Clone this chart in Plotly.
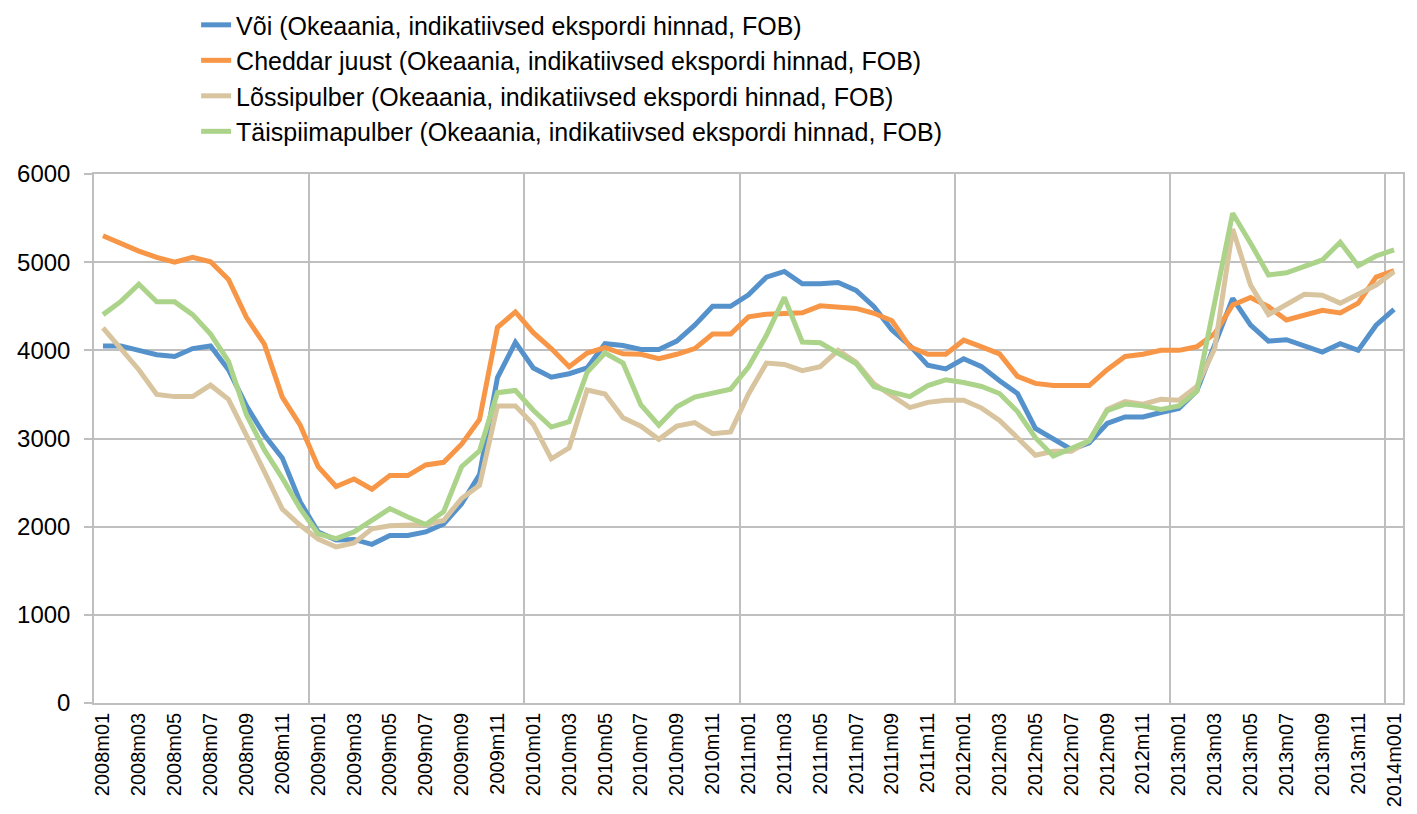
import plotly.graph_objects as go

# MONTH LABELS (2008m01 ... 2014m01), the last one is spelled like in the source
months = []
for year in range(2008, 2014):
    for m in range(1, 13):
        months.append(f"{year}m{m:02d}")
months.append("2014m001")

# PRICES (USD/t)
voi = [4050, 4050, 4000, 3950, 3930, 4020, 4050, 3780, 3370, 3040, 2780, 2280,
       1940, 1850, 1855, 1800, 1900, 1900, 1940, 2030, 2260, 2590, 3690, 4090,
       3800, 3695, 3735, 3800, 4075, 4055, 4010, 4010, 4105, 4285, 4500, 4500,
       4630, 4830, 4895, 4755, 4755, 4770, 4680, 4495, 4230, 4055, 3830, 3790,
       3905, 3815, 3655, 3510, 3115, 2990, 2875, 2950, 3170, 3245, 3245, 3295,
       3340, 3540, 4080, 4590, 4285, 4105, 4120, 4045, 3980, 4075, 4000, 4285,
       4465]
cheddar = [5300, 5210, 5125, 5055, 5000, 5055, 5005, 4805, 4375, 4070, 3470, 3150,
           2680, 2455, 2540, 2425, 2580, 2580, 2700, 2730, 2935, 3215, 4260, 4435,
           4200, 4020, 3815, 3970, 4030, 3960, 3955, 3905, 3955, 4020, 4185, 4185,
           4380, 4410, 4420, 4425, 4505, 4495, 4475, 4420, 4335, 4040, 3955, 3955,
           4115, 4040, 3960, 3705, 3625, 3600, 3600, 3600, 3780, 3930, 3955, 4000,
           4000, 4040, 4190, 4515, 4600, 4495, 4345, 4400, 4455, 4425, 4535, 4830,
           4905]
lossipulber = [4255, 4015, 3780, 3500, 3475, 3475, 3605, 3445, 3045, 2625, 2200, 2015,
               1860, 1770, 1815, 1975, 2010, 2015, 2025, 2070, 2320, 2470, 3370, 3370,
               3160, 2770, 2895, 3550, 3505, 3235, 3140, 2990, 3140, 3180, 3055, 3075,
               3505, 3855, 3840, 3770, 3815, 4000, 3865, 3620, 3485, 3350, 3410, 3435,
               3435, 3345, 3205, 3015, 2810, 2855, 2855, 2975, 3330, 3420, 3390, 3445,
               3435, 3590, 4020, 5375, 4740, 4405, 4520, 4635, 4625, 4535, 4635, 4740,
               4890]
taispiimapulber = [4405, 4555, 4750, 4550, 4550, 4405, 4185, 3875, 3270, 2870, 2550, 2205,
                   1920, 1865, 1940, 2070, 2205, 2110, 2025, 2170, 2680, 2860, 3520, 3545,
                   3320, 3130, 3190, 3750, 3970, 3855, 3380, 3150, 3360, 3470, 3520, 3560,
                   3810, 4170, 4600, 4095, 4085, 3970, 3850, 3590, 3525, 3475, 3600, 3665,
                   3635, 3590, 3510, 3305, 3010, 2800, 2885, 2975, 3315, 3390, 3370, 3330,
                   3370, 3535, 4545, 5555, 5215, 4855, 4880, 4955, 5025, 5225, 4960, 5070,
                   5140]

series_names = ["Või (Okeaania, indikatiivsed ekspordi hinnad, FOB)",
                "Cheddar juust (Okeaania, indikatiivsed ekspordi hinnad, FOB)",
                "Lõssipulber (Okeaania, indikatiivsed ekspordi hinnad, FOB)",
                "Täispiimapulber (Okeaania, indikatiivsed ekspordi hinnad, FOB)"]
series_values = [voi, cheddar, lossipulber, taispiimapulber]
series_colors = ["#5592CC", "#F79646", "#D8C49F", "#ABD48A"]

x_idx = list(range(len(months)))

fig = go.Figure()
for name, vals, col in zip(series_names, series_values, series_colors):
    fig.add_trace(go.Scatter(x=x_idx, y=vals, mode="lines", name=name,
                             line=dict(color=col, width=5)))

grid = "#BFBFBF"
# the html page has an 8px body margin, margins below take that into account
fig.update_layout(
    width=1417, height=814,
    margin=dict(l=86, r=22, t=166, b=119, autoexpand=False),
    paper_bgcolor="white", plot_bgcolor="white",
    font=dict(family="Arial, Liberation Sans, sans-serif", color="black", size=20),
    showlegend=True,
    legend=dict(x=0.078, y=1.325, xanchor="left", yanchor="top",
                font=dict(size=25), itemwidth=30, tracegroupgap=0,
                bgcolor="rgba(0,0,0,0)"),
)

# x axis: every second month labelled, vertical grid only between years
fig.update_xaxes(
    range=[-0.5, len(months) - 0.5], automargin=False,
    tickmode="array", tickvals=x_idx[::2], ticktext=months[::2],
    tickangle=-90, tickfont=dict(size=20),
    showgrid=False, zeroline=False,
    showline=True, linecolor=grid, linewidth=1.5, mirror=True,
    minor=dict(tickmode="linear", tick0=-0.5, dtick=12, showgrid=True,
               gridcolor=grid, gridwidth=1.5),
)
fig.update_yaxes(
    range=[0, 6000], tickmode="linear", tick0=0, dtick=1000, automargin=False,
    showgrid=True, gridcolor=grid, gridwidth=1.5,
    zeroline=False, showline=True, linecolor=grid, linewidth=1.5, mirror=True,
    ticks="outside", ticklen=8, tickcolor=grid, tickwidth=1.5,
    tickfont=dict(size=24), ticklabelstandoff=9,
)

fig.write_html("out.html")
